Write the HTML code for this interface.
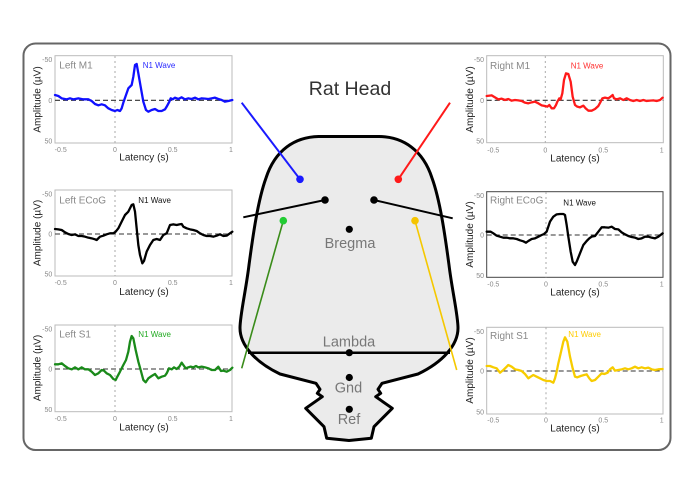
<!DOCTYPE html>
<html><head><meta charset="utf-8"><style>
html,body{margin:0;padding:0;background:#fff;}
svg{display:block;font-family:"Liberation Sans",Arial,sans-serif;}
.tk{font-size:7px;fill:#888;}
.ax{font-size:10px;fill:#222;}
.ttl{font-size:10px;fill:#888;}
.n1{font-size:8px;}
.tr{fill:none;stroke-width:2.3;stroke-linejoin:round;stroke-linecap:round;}
.box{fill:#fff;stroke:#bbb;stroke-width:1;}
.zero{stroke:#333;stroke-width:1.1;stroke-dasharray:5,3;}
.vz{stroke:#aaa;stroke-width:1;stroke-dasharray:2,3;}
.lbl{font-size:14.5px;fill:#777;text-anchor:middle;}
</style></head><body>
<svg width="700" height="495" viewBox="0 0 700 495" xmlns="http://www.w3.org/2000/svg">
<rect x="0" y="0" width="700" height="495" fill="#fff"/>
<rect x="23.5" y="43.5" width="647" height="406.5" rx="12" ry="12" fill="#fff" stroke="#666" stroke-width="2"/>

<!-- ===== Head ===== -->
<path fill="#ebebeb" stroke="#000" stroke-width="3" stroke-linejoin="round" d="M 379.5 136.5 L 318.5 136.5 C 295 137 275 150 266 178 C 258 200 253 235 249 265 C 246 290 240 315 240 328 C 240 345 255 362 280 374 L 316 383.3 L 320 389.3 L 317.3 393.3 L 322.3 396.7 L 305.7 408.3 L 324 426.7 L 326.7 438.3 L 349 440.5 L 371.3 438.3 L 374 426.7 L 392.3 408.3 L 375.7 396.7 L 380.7 393.3 L 378 389.3 L 382 383.3 L 418 374 C 443 362 458 345 458 328 C 458 315 452 290 449 265 C 445 235 440 200 432 178 C 423 150 403 137 379.5 136.5 Z"/>
<line x1="248" y1="352.7" x2="450" y2="352.7" stroke="#000" stroke-width="2.5"/>

<text x="350" y="95" text-anchor="middle" font-size="19.5" fill="#333">Rat Head</text>
<text x="350" y="248" class="lbl">Bregma</text>
<text x="349" y="346.5" class="lbl">Lambda</text>
<text x="348.5" y="392.5" class="lbl">Gnd</text>
<text x="349" y="424" class="lbl">Ref</text>

<circle cx="349.3" cy="229.3" r="3.6" fill="#000"/>
<circle cx="349.3" cy="352.7" r="3.6" fill="#000"/>
<circle cx="349.3" cy="377.5" r="3.6" fill="#000"/>
<circle cx="349.3" cy="409.3" r="3.6" fill="#000"/>

<!-- electrode lines -->
<line x1="241.7" y1="102.7" x2="300" y2="179.3" stroke="#1a1aff" stroke-width="2"/>
<circle cx="300" cy="179.3" r="3.8" fill="#1a1aff"/>
<line x1="450" y1="102.7" x2="398.3" y2="179.3" stroke="#ff1a1a" stroke-width="2"/>
<circle cx="398.3" cy="179.3" r="3.8" fill="#ff1a1a"/>
<line x1="243.3" y1="217.3" x2="325" y2="200" stroke="#000" stroke-width="2"/>
<circle cx="325" cy="200" r="3.8" fill="#000"/>
<line x1="452.7" y1="218.3" x2="374" y2="200" stroke="#000" stroke-width="2"/>
<circle cx="374" cy="200" r="3.8" fill="#000"/>
<line x1="241.7" y1="368.3" x2="283.3" y2="220.7" stroke="#3a8c1a" stroke-width="1.6"/>
<circle cx="283.3" cy="220.7" r="3.8" fill="#22cc33"/>
<line x1="456.7" y1="370" x2="415" y2="220.7" stroke="#f5c800" stroke-width="1.6"/>
<circle cx="415" cy="220.7" r="3.8" fill="#f5c400"/>

<!-- ===== Panel: Left M1 ===== -->
<rect class="box" x="55" y="55.7" width="177" height="87.3"/>
<line class="vz" x1="115" y1="56" x2="115" y2="143"/>
<line class="zero" x1="55" y1="100.3" x2="232" y2="100.3"/>
<text class="tk" x="52.3" y="62.2" text-anchor="end">-50</text>
<text class="tk" x="52.3" y="103" text-anchor="end">0</text>
<text class="tk" x="52.3" y="143.5" text-anchor="end">50</text>
<text class="tk" x="60.7" y="152" text-anchor="middle">-0.5</text>
<text class="tk" x="115" y="152" text-anchor="middle">0</text>
<text class="tk" x="172.7" y="152" text-anchor="middle">0.5</text>
<text class="tk" x="231" y="152" text-anchor="middle">1</text>
<text class="ax" x="144" y="160.7" text-anchor="middle">Latency (s)</text>
<text class="ax" transform="translate(40.5,99.5) rotate(-90)" text-anchor="middle">Amplitude (µV)</text>
<text class="ttl" x="59.3" y="68.3">Left M1</text>
<text class="n1" x="142.7" y="68" fill="#2a2aff">N1 Wave</text>
<g transform="translate(20,40) scale(0.333333)">
<polyline class="tr" stroke="#1010ff" vector-effect="non-scaling-stroke" points="105,165 115,168 125,175 140,178 150,175 160,178 175,175 190,178 205,178 215,183 225,192 235,196 245,193 255,196 265,205 275,210 285,213 292,210 300,213 305,205 310,188 318,165 325,145 335,135 340,110 345,75 350,72 355,100 362,140 370,185 378,210 385,215 395,210 405,207 415,213 425,213 435,208 440,200 448,185 452,175 458,178 465,173 475,177 485,172 495,178 505,175 515,177 525,173 535,178 545,175 555,176 565,177 575,175 585,173 595,177 605,180 615,185 625,183 637,180"/>
</g>

<!-- ===== Panel: Left ECoG ===== -->
<rect class="box" x="55" y="190" width="177" height="86"/>
<line class="vz" x1="115" y1="190" x2="115" y2="276"/>
<line class="zero" x1="55" y1="234" x2="232" y2="234"/>
<text class="tk" x="52.3" y="196.5" text-anchor="end">-50</text>
<text class="tk" x="52.3" y="236.7" text-anchor="end">0</text>
<text class="tk" x="52.3" y="276.5" text-anchor="end">50</text>
<text class="tk" x="60.7" y="285" text-anchor="middle">-0.5</text>
<text class="tk" x="115" y="285" text-anchor="middle">0</text>
<text class="tk" x="172.7" y="285" text-anchor="middle">0.5</text>
<text class="tk" x="231" y="285" text-anchor="middle">1</text>
<text class="ax" x="144" y="295" text-anchor="middle">Latency (s)</text>
<text class="ax" transform="translate(40.5,233) rotate(-90)" text-anchor="middle">Amplitude (µV)</text>
<text class="ttl" x="59.3" y="203.3">Left ECoG</text>
<text class="n1" x="138.3" y="203" fill="#111">N1 Wave</text>
<g transform="translate(20,175) scale(0.333333)">
<polyline class="tr" stroke="#000" vector-effect="non-scaling-stroke" points="105,162 115,163 125,165 135,172 145,177 155,180 165,178 175,183 185,183 195,185 205,188 215,190 225,193 230,195 240,185 250,182 260,178 270,175 280,175 287,170 295,160 305,140 315,120 325,110 335,90 340,88 345,110 350,160 355,210 360,240 367,265 372,258 380,230 390,210 400,195 410,192 420,195 430,180 440,175 450,150 460,148 470,150 478,148 485,147 490,155 500,160 510,163 520,165 530,168 540,175 550,180 560,183 570,183 580,185 590,182 600,178 610,183 620,182 630,175 637,170"/>
</g>

<!-- ===== Panel: Left S1 ===== -->
<rect class="box" x="55" y="325" width="177" height="86.7"/>
<line class="vz" x1="115" y1="325" x2="115" y2="411.7"/>
<line class="zero" x1="55" y1="369" x2="232" y2="369"/>
<text class="tk" x="52.3" y="331.5" text-anchor="end">-50</text>
<text class="tk" x="52.3" y="371.7" text-anchor="end">0</text>
<text class="tk" x="52.3" y="412" text-anchor="end">50</text>
<text class="tk" x="60.7" y="421" text-anchor="middle">-0.5</text>
<text class="tk" x="115" y="421" text-anchor="middle">0</text>
<text class="tk" x="172.7" y="421" text-anchor="middle">0.5</text>
<text class="tk" x="231" y="421" text-anchor="middle">1</text>
<text class="ax" x="144" y="430.7" text-anchor="middle">Latency (s)</text>
<text class="ax" transform="translate(40.5,368) rotate(-90)" text-anchor="middle">Amplitude (µV)</text>
<text class="ttl" x="59.3" y="337.3">Left S1</text>
<text class="n1" x="138.3" y="337" fill="#22aa22">N1 Wave</text>
<g transform="translate(20,310) scale(0.333333)">
<polyline class="tr" stroke="#1a8a1a" vector-effect="non-scaling-stroke" points="105,163 115,163 125,160 135,168 145,175 155,178 165,172 175,178 185,172 195,178 205,178 215,185 225,195 235,190 245,180 252,182 260,190 270,195 280,207 287,210 292,200 300,185 310,165 318,150 325,125 330,95 335,78 340,85 347,120 355,155 362,180 370,210 377,217 385,205 395,198 405,192 415,205 425,200 435,197 440,190 447,175 455,178 462,172 470,177 478,170 485,158 490,165 497,175 505,172 512,170 520,172 528,168 535,172 545,170 555,172 565,175 575,180 585,180 595,170 603,183 610,182 620,185 630,180 637,173"/>
</g>

<!-- ===== Panel: Right M1 ===== -->
<rect class="box" x="486.7" y="55.7" width="176.6" height="87"/>
<line class="vz" x1="545.3" y1="56" x2="545.3" y2="142.7"/>
<line class="zero" x1="486.7" y1="100.3" x2="663.3" y2="100.3"/>
<text class="tk" x="484" y="62.2" text-anchor="end">-50</text>
<text class="tk" x="484" y="103" text-anchor="end">0</text>
<text class="tk" x="484" y="143.5" text-anchor="end">50</text>
<text class="tk" x="493.3" y="152.7" text-anchor="middle">-0.5</text>
<text class="tk" x="545.3" y="152.7" text-anchor="middle">0</text>
<text class="tk" x="603.3" y="152.7" text-anchor="middle">0.5</text>
<text class="tk" x="661.7" y="152.7" text-anchor="middle">1</text>
<text class="ax" x="575" y="161.7" text-anchor="middle">Latency (s)</text>
<text class="ax" transform="translate(473,99.5) rotate(-90)" text-anchor="middle">Amplitude (µV)</text>
<text class="ttl" x="490" y="69">Right M1</text>
<text class="n1" x="570.7" y="68.5" fill="#ff3030">N1 Wave</text>
<g transform="translate(440,40) scale(0.333333)">
<polyline class="tr" stroke="#ff1a1a" vector-effect="non-scaling-stroke" points="140,168 155,166 165,172 175,178 185,176 195,180 205,177 215,182 225,180 235,181 245,183 255,188 265,190 275,187 285,185 295,190 305,196 315,198 322,200 328,195 335,205 342,205 348,195 352,185 358,175 362,178 367,160 372,120 378,100 385,102 392,125 398,170 405,195 412,200 420,202 430,197 437,205 445,212 455,212 465,207 475,198 482,185 487,175 495,173 505,175 512,170 518,165 522,175 530,178 540,175 550,180 560,175 570,180 580,183 590,180 600,183 610,180 620,183 630,182 640,181 650,183 660,180 668,173"/>
</g>

<!-- ===== Panel: Right ECoG ===== -->
<rect class="box" x="486.7" y="191.7" width="176.3" height="85.6" style="stroke:#444"/>
<line class="vz" x1="546" y1="192" x2="546" y2="277.3"/>
<line class="zero" x1="486.7" y1="235" x2="663" y2="235"/>
<text class="tk" x="484" y="198" text-anchor="end">-50</text>
<text class="tk" x="484" y="237.7" text-anchor="end">0</text>
<text class="tk" x="484" y="278" text-anchor="end">50</text>
<text class="tk" x="493.3" y="286.7" text-anchor="middle">-0.5</text>
<text class="tk" x="546" y="286.7" text-anchor="middle">0</text>
<text class="tk" x="603.3" y="286.7" text-anchor="middle">0.5</text>
<text class="tk" x="661.7" y="286.7" text-anchor="middle">1</text>
<text class="ax" x="575" y="295.7" text-anchor="middle">Latency (s)</text>
<text class="ax" transform="translate(473,234.5) rotate(-90)" text-anchor="middle">Amplitude (µV)</text>
<text class="ttl" x="490" y="203.3">Right ECoG</text>
<text class="n1" x="563.3" y="205.5" fill="#111">N1 Wave</text>
<g transform="translate(440,175) scale(0.333333)">
<polyline class="tr" stroke="#000" vector-effect="non-scaling-stroke" points="140,170 152,170 160,175 170,182 180,185 190,188 200,188 210,190 220,190 230,192 240,196 250,199 258,203 265,198 275,192 285,190 295,185 305,180 312,177 320,170 330,140 340,125 350,118 360,117 370,117 375,120 380,150 385,185 392,230 398,260 405,270 410,260 420,235 430,210 440,198 448,190 455,185 465,183 475,170 485,157 495,157 505,158 515,155 525,162 535,163 545,172 555,178 565,183 575,186 585,188 595,192 605,190 615,185 625,185 635,188 645,190 655,185 668,175"/>
</g>

<!-- ===== Panel: Right S1 ===== -->
<rect class="box" x="486.7" y="327.3" width="176.3" height="86.7"/>
<line class="vz" x1="546" y1="327.3" x2="546" y2="414"/>
<line class="zero" x1="486.7" y1="371" x2="663" y2="371"/>
<text class="tk" x="484" y="333.8" text-anchor="end">-50</text>
<text class="tk" x="484" y="373.7" text-anchor="end">0</text>
<text class="tk" x="484" y="414.5" text-anchor="end">50</text>
<text class="tk" x="493.3" y="422.7" text-anchor="middle">-0.5</text>
<text class="tk" x="546" y="422.7" text-anchor="middle">0</text>
<text class="tk" x="603.3" y="422.7" text-anchor="middle">0.5</text>
<text class="tk" x="661.7" y="422.7" text-anchor="middle">1</text>
<text class="ax" x="575" y="431.7" text-anchor="middle">Latency (s)</text>
<text class="ax" transform="translate(473,370.5) rotate(-90)" text-anchor="middle">Amplitude (µV)</text>
<text class="ttl" x="490" y="339">Right S1</text>
<text class="n1" x="568.3" y="337" fill="#ffcc00">N1 Wave</text>
<g transform="translate(440,310) scale(0.333333)">
<polyline class="tr" stroke="#f7cc00" vector-effect="non-scaling-stroke" points="140,168 150,168 160,172 170,175 180,188 190,180 200,170 205,165 215,170 225,178 235,180 245,183 255,192 265,205 272,200 280,195 290,200 300,205 310,210 320,213 330,213 340,218 345,205 350,185 355,160 362,130 370,95 375,82 382,95 390,140 398,175 405,200 412,202 422,198 432,195 440,193 448,205 455,213 465,210 475,200 485,190 493,192 503,188 510,178 518,172 525,182 535,180 545,178 555,175 565,178 575,175 585,170 595,175 605,172 615,175 625,173 635,178 645,180 655,178 668,177"/>
</g>
</svg>
</body></html>
